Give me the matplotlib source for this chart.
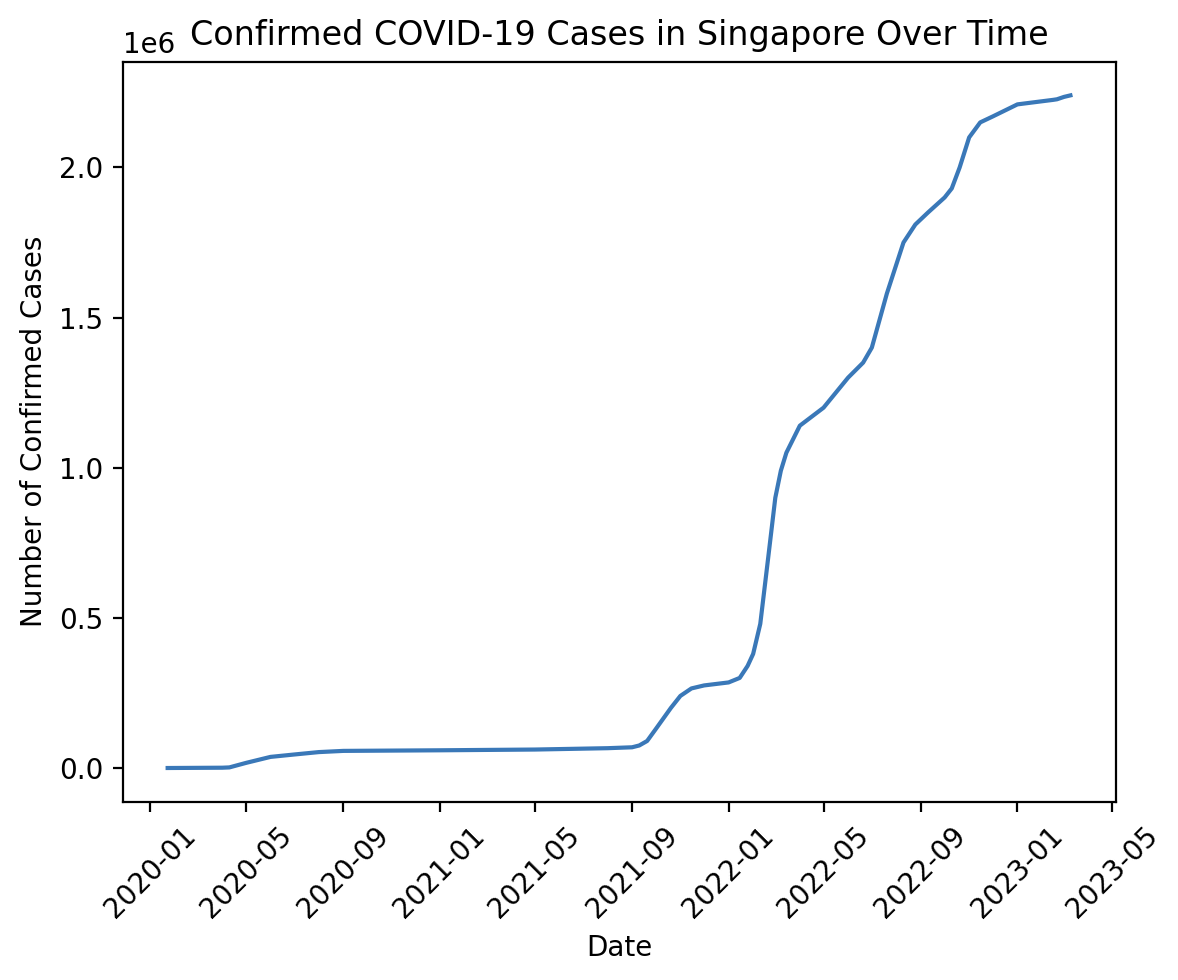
import matplotlib
matplotlib.use("Agg")
import matplotlib.pyplot as plt
import pandas as pd

dates = ["2020-01-23", "2020-04-01", "2020-04-10", "2020-05-01", "2020-06-01", "2020-07-01",
         "2020-08-01", "2020-09-01", "2021-01-01", "2021-05-01", "2021-08-01", "2021-09-01",
         "2021-09-10", "2021-09-20", "2021-10-01", "2021-10-20", "2021-11-01", "2021-11-15",
         "2021-12-01", "2022-01-01", "2022-01-15", "2022-01-25", "2022-02-01", "2022-02-10",
         "2022-02-20", "2022-03-01", "2022-03-08", "2022-03-15", "2022-04-01", "2022-05-01",
         "2022-06-01", "2022-06-20", "2022-07-01", "2022-07-20", "2022-08-10", "2022-08-25",
         "2022-09-10", "2022-10-01", "2022-10-10", "2022-10-20", "2022-11-01", "2022-11-15",
         "2022-12-01", "2023-01-01", "2023-02-15", "2023-02-20", "2023-03-01", "2023-03-09"]
cases = [0, 1000, 2000, 17000, 37000, 45000,
         53000, 57000, 59000, 61500, 66000, 69000,
         75000, 90000, 130000, 200000, 240000, 265000,
         275000, 285000, 300000, 340000, 380000, 480000,
         700000, 900000, 990000, 1050000, 1140000, 1200000,
         1300000, 1350000, 1400000, 1580000, 1750000, 1810000,
         1850000, 1900000, 1930000, 2000000, 2100000, 2150000,
         2170000, 2210000, 2225000, 2227000, 2235000, 2240000]

df = pd.DataFrame({"Date": pd.to_datetime(dates), "Confirmed": cases})

plt.figure(figsize=(5.89, 4.9), dpi=200)
plt.plot(df["Date"], df["Confirmed"], color="#3a78b8")
plt.title("Confirmed COVID-19 Cases in Singapore Over Time")
plt.xlabel("Date")
plt.ylabel("Number of Confirmed Cases")
plt.xticks(rotation=45)
plt.subplots_adjust(left=0.104, right=0.947, top=0.937, bottom=0.182)
plt.savefig("out.png", dpi=200)
